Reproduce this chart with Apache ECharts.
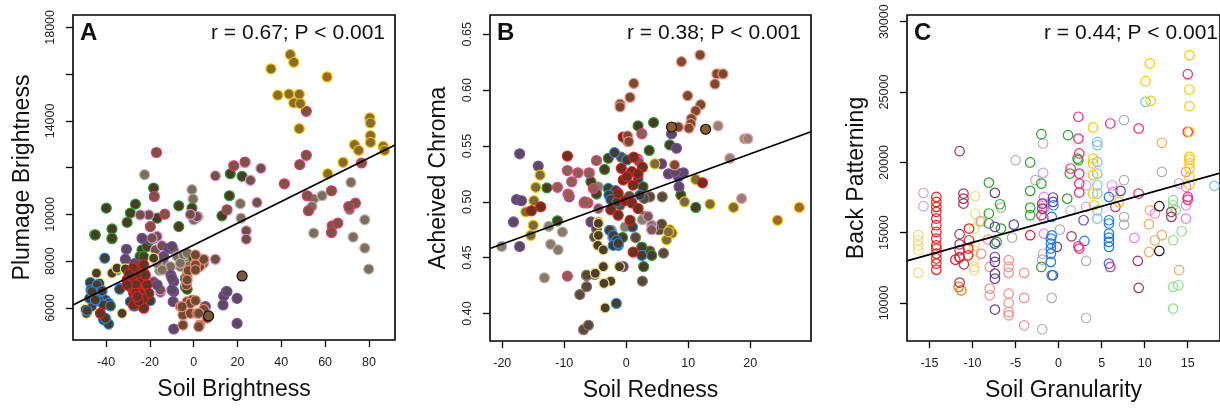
<!DOCTYPE html>
<html><head><meta charset="utf-8">
<script src="https://cdn.jsdelivr.net/npm/echarts@6/dist/echarts.min.js"></script>
<style>html,body{margin:0;padding:0;background:#fff}#c{width:1220px;height:408px}</style>
</head><body><div id="c"></div>
<script>
// ---------- Panel A : Soil Brightness vs Plumage Brightness ----------
const aGold=[[35.3,16225],[44.1,16840],[45.7,16510],[38.4,15100],[43.5,15150],[48.2,15140],[45.7,14770],[48.7,14740],[48.2,13670],[80.4,14130],[80.7,13910],[80.7,13370],[80.7,13080],[73.4,12980],[75.3,12740],[86.5,12910],[87.1,12740],[68.2,12230],[61.2,11740]];
const aOrange=[[60.9,15880]];
const aLightYellow=[[-44.4,7490],[-49.0,5770],[-49.5,5940],[-46.4,6060],[-32.7,5770],[-37.3,7490],[-35.0,7700],[-18.3,8130],[-45.5,6600],[-42.9,7057],[-31.2,7670]];
const aPink=[[51.4,14410],[51.4,12530],[48.4,12130],[41.4,11310],[62.9,11010],[51.8,10800],[52.4,10160],[63.2,9510],[62.9,9230],[65.8,9630],[76.6,12200],[73.8,10480],[70.8,10340],[-17.0,12650],[-18.0,10770],[-13.2,10010],[18.3,12080],[23.4,12240],[15.2,10200],[-19.8,9480]];
const aGray=[[54.8,10660],[54.0,10340],[58.6,10800],[54.8,9200],[71.8,11370],[71.2,10200],[72.8,9030],[78.1,9770],[78.1,8560],[79.9,7660],[-22.4,11700],[21.3,10460],[21.6,9840],[-0.8,11060],[-0.3,10660],[0,9770],[2,9910],[-9.1,8480],[-6.1,7770],[4.6,7910],[-22.1,6990],[-4.5,8000],[-2.0,7800],[-7.5,8200],[-13.5,7900],[-15.5,7600],[-21.3,7057],[-4.6,8268],[-3.0,8341],[-10.6,7768],[-16.7,7912],[-14.4,7626],[-6.1,7912],[-3.0,7485]];
const aGreen=[[-39.9,10270],[-45.2,9130],[-37.3,9380],[-37.3,8960],[-26.6,10440],[-28.9,10060],[-30.4,9660],[-18.3,11130],[-16.7,9840],[-6.8,10370],[-6.8,9480],[-0.8,10270],[16.7,11740],[22.1,11630],[16.3,10800],[12.9,9940],[-23.6,8480],[-21.3,8630],[-18.3,8980],[-35.0,7660],[0,8130],[-3.8,6910],[-3.8,7270],[-24.5,8200],[-20.0,8900],[-44.9,9124],[-37.3,8984],[-22.8,8196],[-3.0,6800],[-35.3,7626]];
const aOrchid=[[9.9,11650],[30.7,11970],[25.9,11460],[28.9,10510],[24.0,9300],[24.0,8940],[-20.5,9980],[-24.4,9980],[-17.5,8480],[-16.7,9060],[-14.5,8660],[1.5,9910],[-15.2,6670],[9.9,8080],[-1.5,10000],[-19.0,8984],[-15.2,6770],[-18.3,7126]];
const aPurple=[[-30.7,8510],[-31.2,8080],[-23.6,8980],[-10.4,7400],[-9.1,7130],[-9.1,6700],[-9.4,6270],[-9.1,5100],[5.3,6060],[14.9,6700],[13.7,6510],[13.4,6130],[19.8,6410],[19.8,5340],[-16.7,6990],[-11.5,8550],[-27.0,7900],[-9.9,8624],[-9.9,7270],[-9.9,6770],[15.2,6700],[-13.7,8196]];
const aSalmon=[[-6.1,6060],[-3.0,6270],[-0.8,6340],[-4.9,5700],[-4.9,5270],[-1.5,5770],[1.5,5770],[2.7,5270],[6.1,5560],[4.6,5940],[-3.3,6990],[-3.0,7340],[2.7,7770],[0.8,7910],[4.6,8080],[-2.5,7600],[0.8,8268],[0.8,7840],[0.8,7626],[-3.0,7198],[-1.5,6200],[-5.3,6057],[2.3,5773],[2.3,5200],[0.8,6313]];
const aRed=[[-30.4,7200],[-28.9,6910],[-27.4,6630],[-25.9,6910],[-24.4,7200],[-22.8,7490],[-21.3,6990],[-27.4,6130],[-22.8,5990],[-25.9,7490],[-23.6,7770],[-27.7,7700],[-20.5,6630],[-24.4,6630],[-28.2,7200],[-42.6,5770],[-26.5,7000],[-23.0,6400],[-29.5,7450],[-25.0,6300],[-22.8,7840],[-22.1,7412],[-26.6,6629],[-25.8,6484],[-30.4,6984]];
const aBlue=[[-47.2,7090],[-46.9,6770],[-44.1,6990],[-43.4,6660],[-42.2,6490],[-40.3,6340],[-38.8,6200],[-47.5,6410],[-43.4,6300],[-41.1,6130],[-33.5,6840],[-28.9,6270],[-22.8,6130],[-26.6,6090],[-40.6,8130],[-41.1,5490],[-38.8,5310],[-46.4,6700],[-44.9,6342],[-41.8,6728],[-38.0,6086],[-40.3,5559],[-33.8,6800],[-27.4,6086],[-19.8,6313],[-48.7,5884]];
const aBlack=[[22.1,7370],[6.8,5660]];
const fitA=[8693,46.56]; // intercept, slope
const aXTicks=[-40,-20,0,20,40,60,80];
const aYTicks=[6000,8000,10000,12000,14000,16000,18000];
const aYLabels=[6000,8000,10000,14000,18000];

// ---------- Panel B : Soil Redness vs Acheived Chroma ----------
const bSalmon=[[11.9,0.6315],[8.9,0.6255],[1.2,0.606],[0.6,0.5935],[-1.0,0.5875],[-1.0,0.585],[14.6,0.6145],[15.6,0.6145],[14.3,0.6055],[9.9,0.595],[12.0,0.587],[11.2,0.5815],[10.5,0.5745],[10.4,0.570],[10.1,0.566],[8.4,0.567],[7.8,0.533],[0.2,0.559],[0.4,0.554]];
const bPinkGray=[[14.8,0.568],[19.1,0.5565],[19.6,0.5565],[16.7,0.539],[18.6,0.503]];
const bBlack=[[12.8,0.565],[7.3,0.567]];
const bPurple=[[-17.2,0.543],[-14.2,0.532],[-17.7,0.502],[-16.9,0.501],[-18.2,0.482],[-17.2,0.460],[-9.2,0.5045],[7.3,0.561],[8.1,0.548],[8.5,0.5135],[8.4,0.5225],[5.7,0.534],[6.8,0.525],[9.2,0.526],[-5.7,0.482],[-0.5,0.442],[7.9,0.527]];
const bGold=[[-13.9,0.524],[-14.6,0.513],[-14.9,0.501],[-16.2,0.491],[-15.0,0.479],[-15.4,0.470],[4.6,0.534],[11.2,0.520],[9.4,0.500],[13.5,0.498],[17.3,0.495],[7.0,0.475],[7.4,0.472],[6.5,0.466],[6.8,0.4731]];
const bOrange=[[24.4,0.4835],[27.9,0.495]];
const bLightYellow=[[-4.5,0.482],[-4.5,0.470],[-4.6,0.461],[-3.7,0.457],[-1.1,0.442],[-2.5,0.429],[-3.4,0.405],[-3.7,0.442],[-3.6,0.427],[-5.0,0.436],[-4.5,0.4807]];
const bGreen=[[-12.8,0.5125],[-11.1,0.483],[-5.7,0.518],[-4.8,0.507],[-3.5,0.529],[-2.9,0.539],[1.9,0.568],[4.4,0.571],[3.7,0.546],[7.0,0.551],[2.7,0.5135],[8.8,0.506],[11.2,0.495],[-0.6,0.468],[2.5,0.4595],[2.8,0.442],[4.1,0.452]];
const bRed=[[-9.5,0.541],[-0.5,0.558],[0.3,0.554],[1.2,0.540],[2.6,0.531],[0.9,0.527],[-0.8,0.530],[-0.5,0.5195],[1.1,0.515],[1.9,0.525],[-1.3,0.5075],[-0.2,0.501],[0.9,0.499],[-2.5,0.493],[-1.3,0.488],[1.9,0.494],[0.6,0.4835],[1.1,0.455],[12.3,0.517],[-13.8,0.4955],[-15.3,0.492],[0.1,0.5225]];
const bBlue=[[-1.9,0.544],[0.1,0.5375],[-2.9,0.512],[-1.7,0.510],[-2.8,0.506],[-2.5,0.502],[-2.7,0.4745],[-2.1,0.470],[-1.6,0.4655],[-1.3,0.461],[-2.1,0.461],[1.0,0.4775],[2.5,0.452],[-1.6,0.409],[1.9,0.521],[2.2,0.506],[-1.5,0.500],[-1.3,0.4627]];
const bPink=[[-4.8,0.537],[-9.5,0.528],[-7.8,0.526],[-8.8,0.518],[-6.0,0.526],[-11.1,0.513],[-9.4,0.507],[-6.8,0.499],[-6.2,0.499],[-5.3,0.512],[2.5,0.561],[1.9,0.538],[-9.5,0.4335],[-9.3,0.506],[-6.7,0.500]];
const bOrchid=[[-4.5,0.494],[3.5,0.487],[4.1,0.475],[-2.2,0.468],[2.0,0.536]];
const bGray=[[-20.1,0.460],[-13.2,0.432],[-12.5,0.478],[-10.3,0.473],[-12.2,0.462],[-11.0,0.457],[-4.5,0.5135],[1.9,0.5165],[-2.4,0.4745],[-0.2,0.4775],[2.6,0.484],[-5.9,0.5255],[4.1,0.4791]];
const bDark=[[-6.9,0.3855],[-6.1,0.3895],[-7.5,0.417],[-6.4,0.424],[-6.4,0.434],[-5.1,0.435],[6.0,0.454],[3.8,0.456],[-5.1,0.4685],[5.8,0.5045],[3.8,0.5045],[2.9,0.503],[-0.8,0.540],[5.3,0.475],[5.7,0.480],[4.4,0.477],[1.5,0.468],[2.6,0.429],[-4.8,0.476],[-1.0,0.497],[0.5,0.505],[3.0,0.487],[-6.4,0.4343]];
const fitB=[0.5026,0.002019];
const bXTicks=[-20,-10,0,10,20];
const bYTicks=[0.40,0.45,0.50,0.55,0.60,0.65];

// ---------- Panel C : Soil Granularity vs Back Patterning ----------
const cRed=[[-14.2,17540],[-14.2,17190],[-14.2,16830],[-14.2,16480],[-14.2,16000],[-14.2,15530],[-14.2,15050],[-14.2,14580],[-14.2,14100],[-14.2,13870],[-14.2,13510],[-14.2,13160],[-14.2,12800],[-14.2,12370],[-12.0,13080],[-11.5,13270],[-10.5,13390],[-10.4,14460],[-10.4,15290],[-10.5,13870],[-3.3,14820]];
const cMaroon=[[-11.5,20790],[-11.05,17780],[-11.05,17420],[-11.05,17070],[-11.5,14890],[-11.5,14170],[-11.5,13750],[-11.5,13230],[-11.0,12750],[-11.5,11450],[-1.9,17070],[-1.9,16710],[-2.0,16240],[1.5,14740],[9.2,12990],[9.3,11070],[13.1,16480],[13.1,16120]];
const cLightYellow=[[-16.3,14820],[-16.3,14460],[-16.3,14100],[-16.3,13750],[-16.3,12140],[-9.7,17590],[-9.7,16360],[-9.8,15290],[-9.8,14100],[-9.8,13750],[-9.8,13040],[-9.8,12560],[-9.8,12320],[-9.2,15800]];
const cGold=[[15.2,27620],[10.6,27030],[10.1,25770],[10.7,24370],[15.2,25180],[15.2,24000],[15.2,22170],[15.2,20390],[15.2,20200],[15.2,19920],[15.2,19560],[15.2,18970],[15.2,18420],[4.0,22480],[4.0,20270],[4.0,19920],[4.0,19090],[4.0,17780],[4.1,16950],[7.0,17190]];
const cPink=[[15.0,26270],[15.0,22170],[15.0,17540],[15.0,17350],[9.3,22410],[6.0,22760],[2.3,23240],[2.3,21690],[2.4,20630],[2.4,19200],[2.4,18490],[2.4,17850],[1.4,19560],[2.3,14030],[2.4,13870],[6.0,12560],[9.3,17780],[6.6,16830]];
const cGreen=[[-2.0,22000],[1.1,21930],[2.2,20270],[2.3,20150],[1.3,19200],[-3.3,19990],[-2.0,18490],[-3.3,17970],[-3.3,16780],[-3.3,16240],[1.0,17420],[-8.1,18560],[-8.1,16360],[-8.1,15650],[-6.8,17020],[-6.7,15290],[-7.2,14340],[-2.0,12560]];
const cLightGreen=[[13.3,9600],[13.3,11140],[13.9,11260],[13.3,17310],[13.3,16950],[13.3,14460],[14.3,15100],[13.6,16600]];
const cBlue=[[-0.9,14580],[-0.9,14220],[-0.9,13870],[-0.9,13510],[-0.9,12920],[-0.8,11970],[-0.8,16120],[-0.6,16950],[5.85,17540],[5.85,15880],[5.85,15650],[5.85,14930],[5.85,14650],[5.85,14340],[5.85,13990],[5.85,12800],[3.0,14410],[-0.8,14800]];
const cLightBlue=[[4.5,21460],[4.5,21220],[4.5,20030],[4.5,19200],[4.5,18370],[4.5,17780],[4.5,16590],[4.5,16000],[10.1,24300],[18.1,18330]];
const cPurple=[[-7.4,17830],[-7.4,15410],[-7.4,14220],[-7.4,13270],[-7.4,12920],[-7.4,12090],[-7.4,11730],[-7.4,9530],[-5.2,15570],[-0.65,17500],[-0.65,17190],[-0.2,13990],[2.9,15880],[7.2,17970],[-0.65,11970]];
const cGray=[[-5.0,20150],[-2.7,18730],[-1.9,13080],[-1.9,8130],[-0.8,10360],[0.15,15220],[3.2,12990],[3.2,8930],[7.6,23000],[7.6,18730],[7.6,16120],[7.6,15570],[12.0,19320],[-6.7,16780],[-5.4,14650]];
const cLavender=[[-15.7,17830],[-15.7,16880],[-1.8,21340],[-1.8,19250],[3.2,16830],[3.2,18370],[1.4,16590],[14.0,18500],[-1.8,13500]];
const cSalmon=[[-5.8,13040],[-5.8,12560],[-5.8,12140],[-5.8,10660],[-5.8,10000],[-5.8,9360],[-5.8,9120],[-8.0,12560],[-8.0,11020],[-8.0,10550],[-4.0,12140],[-4.0,10360],[-4.0,8410],[-9.0,15810],[-9.0,13510],[-8.2,14510]];
const cOrange=[[12.0,21390],[10.6,16590],[10.5,15600],[10.5,13630],[11.2,14460],[12.0,14820],[14.0,12330]];
const cDarkOrange=[[-11.6,11140],[-11.3,10900]];
const cViolet=[[-1.7,17540],[-1.7,17070],[-1.7,16710],[-1.7,16000],[-1.7,14930],[6.2,18370],[6.35,17900],[8.8,14630],[11.2,16360],[14.8,19320],[14.8,18260],[14.8,16950],[14.8,16000]];
const cBlack=[[11.7,16880],[11.7,13700]];
const fitC=[16016,171.9];
const cXTicks=[-15,-10,-5,0,5,10,15];
const cYTicks=[10000,15000,20000,25000,30000];

// ---------- layout / chart ----------
const FONT='Liberation Sans, Arial, sans-serif';
const ranges=[
  {x:[-55.1,91.9],y:[4630,18530]},
  {x:[-21.98,29.79],y:[0.3754,0.6673]},
  {x:[-17.61,18.75],y:[7295,30477]}
];
const grids=[
  {left:73,top:15,width:322,height:325},
  {left:490,top:15,width:321,height:326},
  {left:907,top:15,width:315,height:326}
].map(g=>Object.assign(g,{show:true,borderColor:'#000',borderWidth:1.6,backgroundColor:'transparent'}));

function xAxis(i,ticks,name){
  return {gridIndex:i,type:'value',position:'bottom',min:ranges[i].x[0],max:ranges[i].x[1],
    axisLine:{show:false,onZero:false},splitLine:{show:false},
    axisTick:{show:true,length:7,lineStyle:{color:'#000',width:1.3},customValues:ticks},
    axisLabel:{customValues:ticks,margin:16,fontSize:12.5,color:'#222',fontFamily:FONT},
    name:name,nameLocation:'middle',nameGap:38,nameTextStyle:{fontSize:23,color:'#111',fontFamily:FONT}};
}
function yAxis(i,ticks,labels,name,fmt,gap){
  return {gridIndex:i,type:'value',position:'left',min:ranges[i].y[0],max:ranges[i].y[1],
    axisLine:{show:false,onZero:false},splitLine:{show:false},
    axisTick:{show:true,length:7,lineStyle:{color:'#000',width:1.3},customValues:ticks},
    axisLabel:{customValues:labels,rotate:90,margin:16,fontSize:12.5,color:'#222',fontFamily:FONT,formatter:fmt},
    name:name,nameLocation:'middle',nameGap:gap,nameRotate:90,nameTextStyle:{fontSize:23,color:'#111',fontFamily:FONT}};
}
const series=[];
function filled(i,data,fill,border){
  series.push({type:'scatter',xAxisIndex:i,yAxisIndex:i,data:data,symbol:'circle',symbolSize:10,
    itemStyle:{color:fill,borderColor:border,borderWidth:1.2,opacity:1},z:2});
}
function hollow(i,data,border){
  series.push({type:'scatter',xAxisIndex:i,yAxisIndex:i,data:data,symbol:'circle',symbolSize:9.5,
    itemStyle:{color:'rgba(255,255,255,0)',borderColor:border,borderWidth:1.2,opacity:1},z:2});
}
function fit(i,f){
  const xr=ranges[i].x;
  series.push({type:'line',xAxisIndex:i,yAxisIndex:i,symbol:'none',z:5,clip:true,
    data:[[xr[0],f[0]+f[1]*xr[0]],[xr[1],f[0]+f[1]*xr[1]]],
    lineStyle:{color:'#000',width:1.8}});
}
// A
filled(0,aGray,'#7d6d5d','#bdb3aa');
filled(0,aGreen,'#4a3a26','#2f9a2f');
filled(0,aOrchid,'#6e5242','#e08ae0');
filled(0,aPink,'#7a5540','#e8307a');
filled(0,aPurple,'#5e4a5e','#7a50a8');
filled(0,aSalmon,'#6e4a32','#f08a78');
filled(0,aLightYellow,'#4d3c2a','#e8e080');
filled(0,aBlue,'#4a3a2a','#2a88e0');
filled(0,aRed,'#5e3526','#e02020');
filled(0,aGold,'#8a6b2c','#e8c000');
filled(0,aOrange,'#a0662c','#e8c000');
filled(0,aBlack,'#7a5a3a','#111111');
fit(0,fitA);
// B
filled(1,bDark,'#5a4838','#8a7a6a');
filled(1,bGray,'#8a7a6a','#b8b0a8');
filled(1,bGreen,'#4a3a28','#2f9a2f');
filled(1,bPurple,'#5e4a5e','#7a50a8');
filled(1,bPink,'#8a6050','#e84080');
filled(1,bOrchid,'#7a5a48','#e08ae0');
filled(1,bLightYellow,'#4d3c2a','#e8e080');
filled(1,bGold,'#7a6a40','#e8c000');
filled(1,bOrange,'#a0662c','#e8c000');
filled(1,bBlue,'#4a3a28','#2a88e0');
filled(1,bRed,'#6a3020','#e02020');
filled(1,bSalmon,'#7a4a30','#f09080');
filled(1,bPinkGray,'#9a8070','#e0a0b0');
filled(1,bBlack,'#8a6030','#111111');
fit(1,fitB);
// C
hollow(2,cGray,'#b0b0b0');
hollow(2,cLavender,'#c8a8d8');
hollow(2,cLightYellow,'#e8dc80');
hollow(2,cSalmon,'#f49090');
hollow(2,cLightGreen,'#88e088');
hollow(2,cLightBlue,'#80bff0');
hollow(2,cOrange,'#f8a860');
hollow(2,cDarkOrange,'#f07010');
hollow(2,cViolet,'#f080f0');
hollow(2,cGreen,'#2ca02c');
hollow(2,cPurple,'#6a3d9a');
hollow(2,cMaroon,'#a8305a');
hollow(2,cBlue,'#1f78e8');
hollow(2,cRed,'#e8201c');
hollow(2,cPink,'#f0287a');
hollow(2,cGold,'#ffc800');
hollow(2,cBlack,'#111111');
fit(2,fitC);

function txt(x,y,t,font,align){
  return {type:'text',x:x,y:y,z:10,style:{text:t,font:font,fill:'#111',textAlign:align,textVerticalAlign:'middle'}};
}
const option={
  animation:false,
  grid:grids,
  xAxis:[xAxis(0,aXTicks,'Soil Brightness'),xAxis(1,bXTicks,'Soil Redness'),xAxis(2,cXTicks,'Soil Granularity')],
  yAxis:[yAxis(0,aYTicks,aYLabels,'Plumage Brightness',v=>String(v),39),
         yAxis(1,bYTicks,bYTicks,'Acheived Chroma',v=>v.toFixed(2),40),
         yAxis(2,cYTicks,cYTicks,'Back Patterning',v=>String(v),39)],
  series:series,
  graphic:[
    txt(80,33,'A','bold 24px '+FONT,'left'),
    txt(497,33,'B','bold 24px '+FONT,'left'),
    txt(914,33,'C','bold 24px '+FONT,'left'),
    txt(385,33,'r = 0.67; P < 0.001','21px '+FONT,'right'),
    txt(801,33,'r = 0.38; P < 0.001','21px '+FONT,'right'),
    txt(1218,33,'r = 0.44; P < 0.001','21px '+FONT,'right')
  ]
};
const chart=echarts.init(document.getElementById('c'),null,{renderer:'canvas'});
chart.setOption(option);
</script></body></html>
